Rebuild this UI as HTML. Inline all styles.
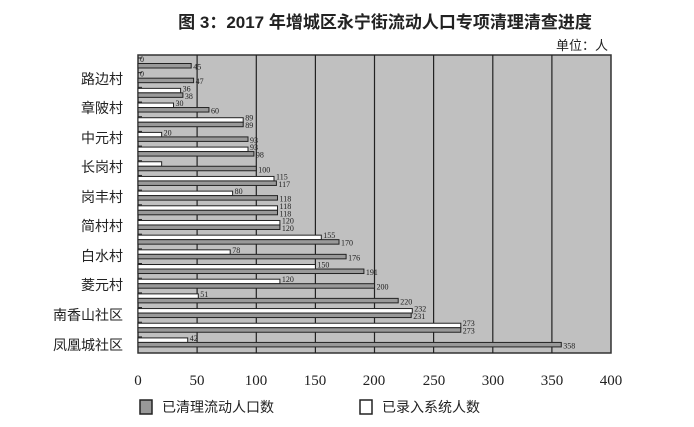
<!DOCTYPE html>
<html><head><meta charset="utf-8"><style>
body{margin:0;background:#fff;}
svg{display:block;}
</style></head><body>
<svg width="694" height="427" xmlns="http://www.w3.org/2000/svg">
<rect width="694" height="427" fill="#fff"/>
<text x="385" y="28" text-anchor="middle" font-family="Liberation Sans, Noto Sans CJK SC, sans-serif" font-size="17" font-weight="bold" fill="#222">图 3：2017 年增城区永宁街流动人口专项清理清查进度</text>
<text x="608" y="50" text-anchor="end" font-family="Liberation Sans, Noto Sans CJK SC, sans-serif" font-size="13" fill="#222">单位：人</text>
<rect x="138" y="55" width="473" height="298" fill="#c0c0c0" stroke="#333" stroke-width="1.5"/>
<g stroke="#222" stroke-width="1.2">
<line x1="197.1" y1="55" x2="197.1" y2="353"/><line x1="256.3" y1="55" x2="256.3" y2="353"/><line x1="315.4" y1="55" x2="315.4" y2="353"/><line x1="374.5" y1="55" x2="374.5" y2="353"/><line x1="433.6" y1="55" x2="433.6" y2="353"/><line x1="492.8" y1="55" x2="492.8" y2="353"/><line x1="551.9" y1="55" x2="551.9" y2="353"/>
</g>
<g font-family="Liberation Serif, serif" font-size="8" fill="#222" stroke-width="1">
<g transform="translate(0,59)"><line x1="138" y1="-1" x2="142" y2="-1" stroke="#222"/><rect x="138" y="0" width="0" height="4.5" fill="#fff" stroke="#222"/><rect x="138" y="4.5" width="53.2" height="4.5" fill="#999" stroke="#222"/><text x="140" y="3">0</text><text x="193.2" y="10.5">45</text></g>
<g transform="translate(0,73.68)"><line x1="138" y1="-1" x2="142" y2="-1" stroke="#222"/><rect x="138" y="0" width="0" height="4.5" fill="#fff" stroke="#222"/><rect x="138" y="4.5" width="55.6" height="4.5" fill="#999" stroke="#222"/><text x="140" y="3">0</text><text x="195.6" y="10.5">47</text></g>
<g transform="translate(0,88.36)"><line x1="138" y1="-1" x2="142" y2="-1" stroke="#222"/><rect x="138" y="0" width="42.6" height="4.5" fill="#fff" stroke="#222"/><rect x="138" y="4.5" width="44.9" height="4.5" fill="#999" stroke="#222"/><text x="182.6" y="3">36</text><text x="184.9" y="10.5">38</text></g>
<g transform="translate(0,103.04)"><line x1="138" y1="-1" x2="142" y2="-1" stroke="#222"/><rect x="138" y="0" width="35.5" height="4.5" fill="#fff" stroke="#222"/><rect x="138" y="4.5" width="70.95" height="4.5" fill="#999" stroke="#222"/><text x="175.5" y="3">30</text><text x="211" y="10.5">60</text></g>
<g transform="translate(0,117.72)"><line x1="138" y1="-1" x2="142" y2="-1" stroke="#222"/><rect x="138" y="0" width="105.2" height="4.5" fill="#fff" stroke="#222"/><rect x="138" y="4.5" width="105.2" height="4.5" fill="#999" stroke="#222"/><text x="245.2" y="3">89</text><text x="245.2" y="10.5">89</text></g>
<g transform="translate(0,132.4)"><line x1="138" y1="-1" x2="142" y2="-1" stroke="#222"/><rect x="138" y="0" width="23.65" height="4.5" fill="#fff" stroke="#222"/><rect x="138" y="4.5" width="110" height="4.5" fill="#999" stroke="#222"/><text x="163.6" y="3">20</text><text x="250" y="10.5">93</text></g>
<g transform="translate(0,147.08)"><line x1="138" y1="-1" x2="142" y2="-1" stroke="#222"/><rect x="138" y="0" width="110" height="4.5" fill="#fff" stroke="#222"/><rect x="138" y="4.5" width="115.9" height="4.5" fill="#999" stroke="#222"/><text x="250" y="3">93</text><text x="255.9" y="10.5">98</text></g>
<g transform="translate(0,161.76)"><line x1="138" y1="-1" x2="142" y2="-1" stroke="#222"/><rect x="138" y="0" width="23.65" height="4.5" fill="#fff" stroke="#222"/><rect x="138" y="4.5" width="118.25" height="4.5" fill="#999" stroke="#222"/><text x="258.3" y="10.5">100</text></g>
<g transform="translate(0,176.44)"><line x1="138" y1="-1" x2="142" y2="-1" stroke="#222"/><rect x="138" y="0" width="136" height="4.5" fill="#fff" stroke="#222"/><rect x="138" y="4.5" width="138.4" height="4.5" fill="#999" stroke="#222"/><text x="276" y="3">115</text><text x="278.4" y="10.5">117</text></g>
<g transform="translate(0,191.12)"><line x1="138" y1="-1" x2="142" y2="-1" stroke="#222"/><rect x="138" y="0" width="94.6" height="4.5" fill="#fff" stroke="#222"/><rect x="138" y="4.5" width="139.5" height="4.5" fill="#999" stroke="#222"/><text x="234.6" y="3">80</text><text x="279.5" y="10.5">118</text></g>
<g transform="translate(0,205.8)"><line x1="138" y1="-1" x2="142" y2="-1" stroke="#222"/><rect x="138" y="0" width="139.5" height="4.5" fill="#fff" stroke="#222"/><rect x="138" y="4.5" width="139.5" height="4.5" fill="#999" stroke="#222"/><text x="279.5" y="3">118</text><text x="279.5" y="10.5">118</text></g>
<g transform="translate(0,220.48)"><line x1="138" y1="-1" x2="142" y2="-1" stroke="#222"/><rect x="138" y="0" width="141.9" height="4.5" fill="#fff" stroke="#222"/><rect x="138" y="4.5" width="141.9" height="4.5" fill="#999" stroke="#222"/><text x="281.9" y="3">120</text><text x="281.9" y="10.5">120</text></g>
<g transform="translate(0,235.16)"><line x1="138" y1="-1" x2="142" y2="-1" stroke="#222"/><rect x="138" y="0" width="183.3" height="4.5" fill="#fff" stroke="#222"/><rect x="138" y="4.5" width="201" height="4.5" fill="#999" stroke="#222"/><text x="323.3" y="3">155</text><text x="341" y="10.5">170</text></g>
<g transform="translate(0,249.84)"><line x1="138" y1="-1" x2="142" y2="-1" stroke="#222"/><rect x="138" y="0" width="92.2" height="4.5" fill="#fff" stroke="#222"/><rect x="138" y="4.5" width="208.1" height="4.5" fill="#999" stroke="#222"/><text x="232.2" y="3">78</text><text x="348.1" y="10.5">176</text></g>
<g transform="translate(0,264.52)"><line x1="138" y1="-1" x2="142" y2="-1" stroke="#222"/><rect x="138" y="0" width="177.4" height="4.5" fill="#fff" stroke="#222"/><rect x="138" y="4.5" width="225.9" height="4.5" fill="#999" stroke="#222"/><text x="317.4" y="3">150</text><text x="365.9" y="10.5">191</text></g>
<g transform="translate(0,279.2)"><line x1="138" y1="-1" x2="142" y2="-1" stroke="#222"/><rect x="138" y="0" width="141.9" height="4.5" fill="#fff" stroke="#222"/><rect x="138" y="4.5" width="236.5" height="4.5" fill="#999" stroke="#222"/><text x="281.9" y="3">120</text><text x="376.5" y="10.5">200</text></g>
<g transform="translate(0,293.88)"><line x1="138" y1="-1" x2="142" y2="-1" stroke="#222"/><rect x="138" y="0" width="60.3" height="4.5" fill="#fff" stroke="#222"/><rect x="138" y="4.5" width="260.2" height="4.5" fill="#999" stroke="#222"/><text x="200.3" y="3">51</text><text x="400.2" y="10.5">220</text></g>
<g transform="translate(0,308.56)"><line x1="138" y1="-1" x2="142" y2="-1" stroke="#222"/><rect x="138" y="0" width="274.3" height="4.5" fill="#fff" stroke="#222"/><rect x="138" y="4.5" width="273.2" height="4.5" fill="#999" stroke="#222"/><text x="414.3" y="3">232</text><text x="413.2" y="10.5">231</text></g>
<g transform="translate(0,323.24)"><line x1="138" y1="-1" x2="142" y2="-1" stroke="#222"/><rect x="138" y="0" width="322.8" height="4.5" fill="#fff" stroke="#222"/><rect x="138" y="4.5" width="322.8" height="4.5" fill="#999" stroke="#222"/><text x="462.8" y="3">273</text><text x="462.8" y="10.5">273</text></g>
<g transform="translate(0,337.92)"><line x1="138" y1="-1" x2="142" y2="-1" stroke="#222"/><rect x="138" y="0" width="49.7" height="4.5" fill="#fff" stroke="#222"/><rect x="138" y="4.5" width="423.3" height="4.5" fill="#999" stroke="#222"/><text x="189.7" y="3">42</text><text x="563.3" y="10.5">358</text></g>
</g>
<g font-family="Liberation Sans, Noto Sans CJK SC, sans-serif" font-size="14" fill="#222" text-anchor="end">
<text x="123" y="84">路边村</text><text x="123" y="113">章陂村</text><text x="123" y="143">中元村</text><text x="123" y="172">长岗村</text><text x="123" y="202">岗丰村</text><text x="123" y="231">简村村</text><text x="123" y="261">白水村</text><text x="123" y="290">菱元村</text><text x="123" y="320">南香山社区</text><text x="123" y="350">凤凰城社区</text>
</g>
<g font-family="Liberation Serif, serif" font-size="15" fill="#222" text-anchor="middle">
<text x="138" y="385">0</text><text x="197" y="385">50</text><text x="256" y="385">100</text><text x="315" y="385">150</text><text x="374" y="385">200</text><text x="434" y="385">250</text><text x="493" y="385">300</text><text x="552" y="385">350</text><text x="611" y="385">400</text>
</g>
<rect x="140" y="400" width="12" height="14" fill="#999" stroke="#222" stroke-width="1.5"/>
<text x="162" y="412" font-family="Liberation Sans, Noto Sans CJK SC, sans-serif" font-size="14" fill="#222">已清理流动人口数</text>
<rect x="360" y="400" width="12" height="14" fill="#fff" stroke="#222" stroke-width="1.5"/>
<text x="382" y="412" font-family="Liberation Sans, Noto Sans CJK SC, sans-serif" font-size="14" fill="#222">已录入系统人数</text>
</svg>
</body></html>
